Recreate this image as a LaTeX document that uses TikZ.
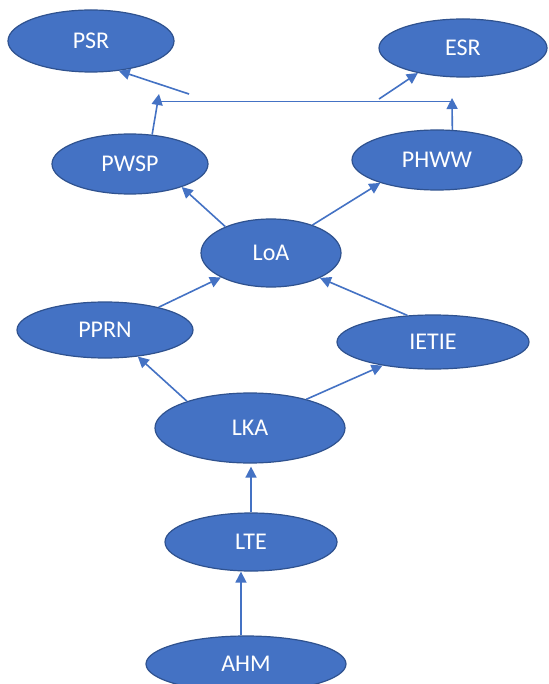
\documentclass[tikz,border=0pt]{standalone}
\usepackage{fontspec}
\setmainfont{Carlito}
\usetikzlibrary{shapes.geometric,arrows.meta}
\definecolor{ofblue}{HTML}{4472C4}
\definecolor{ofedge}{HTML}{2F528F}
\begin{document}
\begin{tikzpicture}[x=1pt,y=-1pt,
 ell/.style={ellipse,draw=ofedge,line width=1.2pt,fill=ofblue,text=white,inner sep=0pt,font=\fontsize{24}{26}\selectfont},
 arr/.style={draw=ofblue,line width=1.6pt,-{Triangle[length=11pt,width=11pt]}},
 hline/.style={draw=ofblue,line width=0.9pt}]
\useasboundingbox[fill=white] (0,0) rectangle (548,684);
\node[ell,minimum width=166pt,minimum height=62pt] (psr) at (91,41) {PSR};
\node[ell,minimum width=168pt,minimum height=58pt] (esr) at (463,48) {ESR};
\node[ell,minimum width=156pt,minimum height=60pt] (pwsp) at (130,164) {PWSP};
\node[ell,minimum width=170pt,minimum height=60pt] (phww) at (437,160) {PHWW};
\node[ell,minimum width=140pt,minimum height=68pt] (loa) at (271,253) {LoA};
\node[ell,minimum width=176pt,minimum height=56pt] (pprn) at (105,330) {PPRN};
\node[ell,minimum width=192pt,minimum height=54pt] (ietie) at (433,342) {IETIE};
\node[ell,minimum width=190pt,minimum height=70pt] (lka) at (250,428) {LKA};
\node[ell,minimum width=172pt,minimum height=58pt] (lte) at (251,542) {LTE};
\node[ell,minimum width=200pt,minimum height=56pt] (ahm) at (246,664) {AHM};
% free ends at the top
\coordinate (jl) at (159,94);
\coordinate (hl) at (159,101);
\coordinate (hr) at (452,101);
\coordinate (jr) at (452,98);
\coordinate (ps) at (189,94);
\coordinate (es) at (379,99);
% connectors
\draw[hline] (hl) -- (hr);
\draw[arr] (pwsp.53) -- (jl);
\draw[arr] (phww.63) -- (jr);
\draw[arr] (ps) -- (psr.-47);
\draw[arr] (es) -- (esr.-151);
\draw[arr] (loa.150) -- (pwsp.-24);
\draw[arr] (loa.34) -- (phww.-158);
\draw[arr] (pprn.23) -- (loa.-154);
\draw[arr] (ietie.134) -- (loa.-27);
\draw[arr] (lka.157) -- (pprn.-39);
\draw[arr] (lka.27) -- (ietie.-155);
\draw[arr,shorten >=3pt] (lte.north) -- (lte.north |- lka.south);
\draw[arr] (ahm.100) -- (ahm.100 |- lte.south);
\end{tikzpicture}
\end{document}
